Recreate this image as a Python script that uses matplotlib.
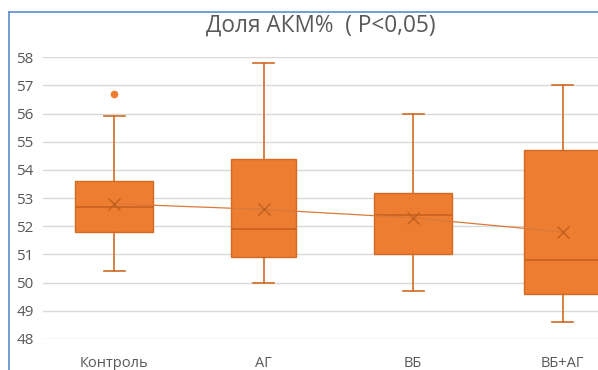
import matplotlib
matplotlib.use("Agg")
import matplotlib.pyplot as plt
from matplotlib.lines import Line2D

categories = ["Контроль", "АГ", "ВБ", "ВБ+АГ"]
whisker_low = [50.4, 50.0, 49.7, 48.6]
q1 = [51.8, 50.9, 51.0, 49.6]
median = [52.7, 51.9, 52.4, 50.8]
q3 = [53.6, 54.4, 53.2, 54.7]
whisker_high = [55.9, 57.8, 56.0, 57.0]
mean = [52.8, 52.6, 52.3, 51.8]
outliers = [[56.7], [], [], []]
y_ticks = [48, 49, 50, 51, 52, 53, 54, 55, 56, 57, 58]
title = "Доля АКМ%  ( P<0,05)"

plt.rcParams['font.family'] = ['Open Sans', 'DejaVu Sans']

W, H = 598, 370
fig = plt.figure(figsize=(W / 100, H / 100), dpi=100)
fig.patch.set_facecolor("white")

ax_left = 43.5 / W
ax_bottom = (H - 339) / H
ax_height = (339 - 57.3) / H
ax = fig.add_axes([ax_left, ax_bottom, 1 - ax_left, ax_height])

orange = "#ED7D31"
edge = "#D36B25"

stats = []
for i, c in enumerate(categories):
    stats.append(dict(label=c, whislo=whisker_low[i], q1=q1[i], med=median[i],
                      q3=q3[i], whishi=whisker_high[i], mean=mean[i],
                      fliers=outliers[i]))

positions = [1, 2, 3, 4]
widths = [0.52, 0.44, 0.52, 0.52]
ax.bxp(stats, positions=positions, widths=widths, patch_artist=True,
       showmeans=False, showfliers=True,
       boxprops=dict(facecolor=orange, edgecolor=edge, linewidth=1.0),
       medianprops=dict(color="#C8621E", linewidth=1.2),
       whiskerprops=dict(color=edge, linewidth=1.2),
       capprops=dict(color=edge, linewidth=1.2),
       capwidths=0.14,
       flierprops=dict(marker='o', markerfacecolor=orange, markeredgecolor=orange,
                       markersize=4.5))

ax.plot(positions, mean, color="#D9793A", linewidth=0.9, zorder=4)
ax.plot(positions, mean, linestyle='none', marker='x', color="#C0601E",
        markersize=9, markeredgewidth=1.0, zorder=5)

ax.set_xlim(0.528, 4.237)
ax.set_ylim(48, 58)
ax.set_yticks(y_ticks)
ax.set_yticklabels([str(t) for t in y_ticks])
ax.set_xticks(positions)
ax.set_xticklabels(categories)
ax.yaxis.grid(True, color="#D9D9D9", linewidth=1.0)
ax.set_axisbelow(True)
for s in ax.spines.values():
    s.set_visible(False)
ax.tick_params(axis='both', length=0, labelsize=11, colors="#595959")
ax.tick_params(axis='y', pad=7)
ax.tick_params(axis='x', pad=12)
for lbl in ax.get_xticklabels():
    lbl.set_fontsize(10.5)

fig.text(321 / W, 1 - 26 / H, title, ha='center', va='center',
         fontsize=16.3, color="#595959")

# chart border (selection frame) visible on left and top
fig.add_artist(Line2D([8.5 / W, 8.5 / W], [0, 1 - 12 / H], color="#5B8BD0",
                      linewidth=1.2, transform=fig.transFigure))
fig.add_artist(Line2D([8.5 / W, 1], [1 - 12 / H, 1 - 12 / H], color="#5B8BD0",
                      linewidth=1.2, transform=fig.transFigure))

fig.savefig("out.png", dpi=100)
